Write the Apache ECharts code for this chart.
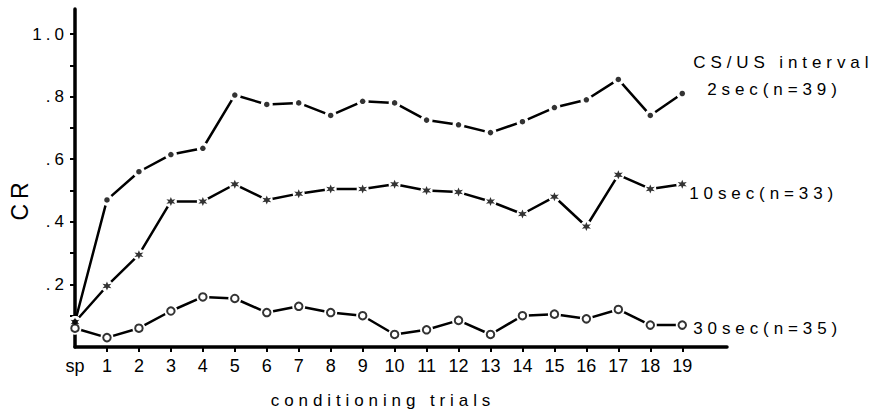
<!DOCTYPE html>
<html>
<head>
<meta charset="utf-8">
<script src="https://cdn.jsdelivr.net/npm/echarts@6/dist/echarts.min.js"></script>
<style>
  html, body { margin: 0; padding: 0; background: #fff; }
  #chart { width: 880px; height: 414px; }
  #chart text[style*="Liberation"] { letter-spacing: 4.9px; }
  #chart text[style*="Helvetica"] { letter-spacing: 4px; }
</style>
</head>
<body>
<div id="chart"></div>
<script>
// ---- data ----
const trials = [0, 1, 2, 3, 4, 5, 6, 7, 8, 9, 10, 11, 12, 13, 14, 15, 16, 17, 18, 19];
const trialLabels = ['sp', '1', '2', '3', '4', '5', '6', '7', '8', '9', '10', '11', '12', '13', '14', '15', '16', '17', '18', '19'];
const cr2sec  = [0.08, 0.47, 0.56, 0.615, 0.635, 0.805, 0.775, 0.78, 0.74, 0.785, 0.78, 0.725, 0.71, 0.685, 0.72, 0.765, 0.79, 0.855, 0.74, 0.81];
const cr10sec = [0.08, 0.195, 0.295, 0.465, 0.465, 0.52, 0.47, 0.49, 0.505, 0.505, 0.52, 0.50, 0.495, 0.465, 0.425, 0.48, 0.385, 0.55, 0.505, 0.52];
const cr30sec = [0.06, 0.03, 0.06, 0.115, 0.16, 0.155, 0.11, 0.13, 0.11, 0.10, 0.04, 0.055, 0.085, 0.04, 0.10, 0.105, 0.09, 0.12, 0.07, 0.07];
const yTickValues = [0.1, 0.2, 0.3, 0.4, 0.5, 0.6, 0.7, 0.8, 0.9, 1.0];
const yLabelValues = [0.2, 0.4, 0.6, 0.8, 1.0];
const yLabelTexts = ['.2', '.4', '.6', '.8', '1.0'];
const xTickValues = [1, 2, 3, 4, 5, 6, 7, 8, 9, 10, 11, 12, 13, 14, 15, 16, 17, 18, 19];
const seriesNames = ['2sec(n=39)', '10sec(n=33)', '30sec(n=35)'];
const legendTitle = 'CS/US interval';

// ---- chart ----
const toPairs = arr => trials.map((t, i) => [t, arr[i]]);
const INK = '#000';
const SPACED = 'Liberation Sans';

const starPath = 'path://M100,0L122.5,61L186.6,50L145,100L186.6,150L122.5,139L100,200L77.5,139L13.4,150L55,100L13.4,50L77.5,61Z';

function lineSeries(name, arr, haloSize, endLabel) {
  return {
    name: name,
    type: 'line',
    data: toPairs(arr),
    symbol: 'circle',
    symbolSize: haloSize,
    showAllSymbol: true,
    itemStyle: { color: '#fff', borderWidth: 0 },
    lineStyle: { color: INK, width: 2.5 },
    z: 2,
    silent: true,
    endLabel: endLabel
  };
}
function markerSeries(arr, symbol, size, style) {
  return {
    type: 'scatter',
    data: toPairs(arr),
    symbol: symbol,
    symbolSize: size,
    itemStyle: style,
    z: 3,
    silent: true
  };
}

const chart = echarts.init(document.getElementById('chart'), null, { renderer: 'svg' });
chart.setOption({
  animation: false,
  backgroundColor: '#fff',
  grid: { left: 71, right: 153, top: 9, bottom: 62, containLabel: false },
  xAxis: {
    type: 'value',
    min: 0,
    max: 20.4,
    interval: 1,
    splitLine: { show: false },
    axisLine: { show: true, lineStyle: { color: INK, width: 3.5 } },
    axisTick: { show: true, customValues: xTickValues, length: 5, lineStyle: { color: INK, width: 2 } },
    axisLabel: {
      customValues: trials,
      formatter: v => trialLabels[Math.round(v)],
      color: INK, fontSize: 18, fontFamily: 'Arial', margin: 10
    },
    name: 'conditioning trials',
    nameLocation: 'middle',
    nameGap: 45,
    nameTextStyle: { color: INK, fontSize: 17, fontFamily: SPACED, padding: [0, 36, 0, 0] }
  },
  yAxis: {
    type: 'value',
    min: 0,
    max: 1.08,
    splitLine: { show: false },
    axisLine: { show: true, lineStyle: { color: INK, width: 3.5 } },
    axisTick: { show: true, customValues: yTickValues, length: 5, lineStyle: { color: INK, width: 2 } },
    axisLabel: {
      customValues: yLabelValues,
      formatter: v => {
        const i = yLabelValues.findIndex(x => Math.abs(x - v) < 1e-6);
        return i >= 0 ? yLabelTexts[i] : '';
      },
      color: INK, fontSize: 17, fontFamily: 'Helvetica', margin: 7
    },
    name: 'CR',
    nameLocation: 'middle',
    nameGap: 44,
    nameTextStyle: { color: INK, fontSize: 23, fontFamily: SPACED, padding: [0, 42, 0, 0] }
  },
  series: [
    lineSeries(seriesNames[0], cr2sec, 12, {
      show: true,
      distance: 11,
      offset: [0, -18],
      formatter: () => '{a|' + legendTitle + '}\n{b|' + seriesNames[0] + '}',
      rich: {
        a: { fontSize: 17, fontFamily: SPACED, color: INK, lineHeight: 27 },
        b: { fontSize: 17, fontFamily: SPACED, color: INK, lineHeight: 27, padding: [0, 0, 0, 14] }
      }
    }),
    lineSeries(seriesNames[1], cr10sec, 12, {
      show: true, distance: 7, offset: [0, 9],
      formatter: () => seriesNames[1],
      fontSize: 17, fontFamily: SPACED, color: INK
    }),
    lineSeries(seriesNames[2], cr30sec, 13, {
      show: true, distance: 11, offset: [0, 3],
      formatter: () => seriesNames[2],
      fontSize: 17, fontFamily: SPACED, color: INK
    }),
    markerSeries(cr2sec, 'circle', 5.5, { color: INK }),
    markerSeries(cr10sec, starPath, 9, { color: INK }),
    markerSeries(cr30sec, 'circle', 7.5, { color: '#fff', borderColor: INK, borderWidth: 2 })
  ]
});
</script>
</body>
</html>
